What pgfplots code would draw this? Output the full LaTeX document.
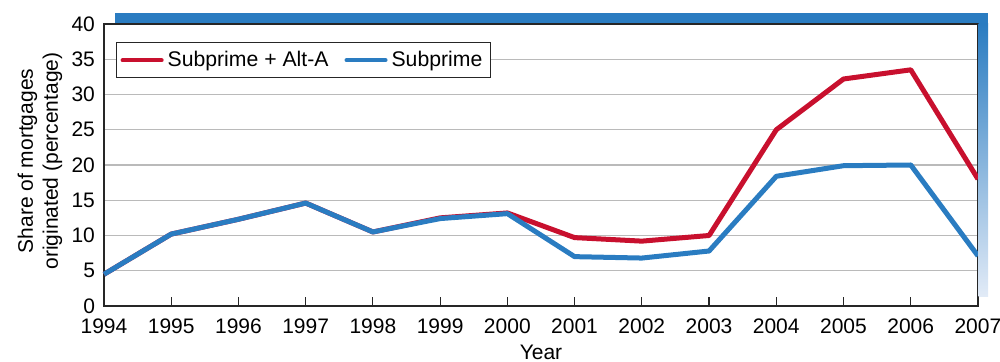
\documentclass[border=0pt]{standalone}
\usepackage{fontspec}
\setmainfont{Liberation Sans}
\usepackage{pgfplots}
\pgfplotsset{compat=1.18}
\definecolor{cred}{HTML}{C8102E}
\definecolor{cblue}{HTML}{2A7CC1}
\definecolor{clight}{HTML}{E2EBF7}
\begin{document}
\begin{tikzpicture}
\begin{axis}[
  scale only axis,
  width=437pt, height=141pt,
  xmin=1994, xmax=2007, ymin=0, ymax=40,
  xtick={1994,...,2007}, ytick={0,5,...,40},
  xticklabel style={/pgf/number format/1000 sep=},
  /pgf/number format/assume math mode=true,
  tick label style={font=\fontsize{10.5}{12}\selectfont},
  ymajorgrids, grid style={color=black!27, line width=0.6pt},
  axis line style={color=black!85, line width=0.6pt},
  x tick style={color=black!85, line width=0.6pt},
  xtick pos=bottom, ytick pos=left,
  major tick length=4.5pt,
  ytick style={draw=none},
  xtick align=inside,
  yticklabel style={xshift=-1pt},
  xticklabel style={yshift=-3pt},
  ylabel={Share of mortgages\\originated (percentage)},
  xlabel={Year},
  every axis y label/.style={at={([xshift=-32pt,yshift=2pt]axis description cs:0,0.5)}, rotate=90, anchor=center, align=center, font=\fontsize{10.5}{12.5}\selectfont},
  every axis x label/.style={at={([yshift=-23pt]axis description cs:0.5,0)}, anchor=center, font=\fontsize{10.5}{12.5}\selectfont},
  legend columns=2,
  legend style={at={(axis description cs:0.0137,0.936)}, anchor=north west, draw=black!85, line width=0.6pt, font=\fontsize{10.6}{13}\selectfont, inner xsep=2pt, inner ysep=2.2pt, /tikz/every even column/.append style={column sep=6pt}},
  legend image code/.code={\draw[#1, line width=2.2pt, line cap=round] (0cm,0cm) -- (0.68cm,0cm);},
  clip=false,
]
\addplot[cred, line width=2.5pt, line join=round] coordinates {
(1994,4.5) (1995,10.2) (1996,12.3) (1997,14.6) (1998,10.5) (1999,12.5) (2000,13.2)
(2001,9.7) (2002,9.2) (2003,10.0) (2004,25.0) (2005,32.2) (2006,33.5) (2007,18.0)};
\addlegendentry{Subprime + Alt-A}
\addplot[cblue, line width=2.5pt, line join=round] coordinates {
(1994,4.5) (1995,10.2) (1996,12.3) (1997,14.6) (1998,10.5) (1999,12.4) (2000,13.1)
(2001,7.0) (2002,6.8) (2003,7.8) (2004,18.4) (2005,19.9) (2006,20.0) (2007,7.1)};
\addlegendentry{Subprime}
\coordinate (sw) at (rel axis cs:0,0);
\coordinate (ne) at (rel axis cs:1,1);
\coordinate (se) at (rel axis cs:1,0);
\coordinate (nw) at (rel axis cs:0,1);
\end{axis}
\fill[cblue] ([xshift=5.5pt,yshift=0.3pt]nw) rectangle ([xshift=5pt,yshift=5.5pt]ne);
\shade[top color=cblue, bottom color=clight] ([xshift=0.3pt,yshift=4.5pt]se) rectangle ([xshift=5pt,yshift=0pt]ne);
\pgfresetboundingbox
\path ([shift={(-52pt,-28pt)}]sw) rectangle ([shift={(11pt,12pt)}]ne);
\end{tikzpicture}
\end{document}
